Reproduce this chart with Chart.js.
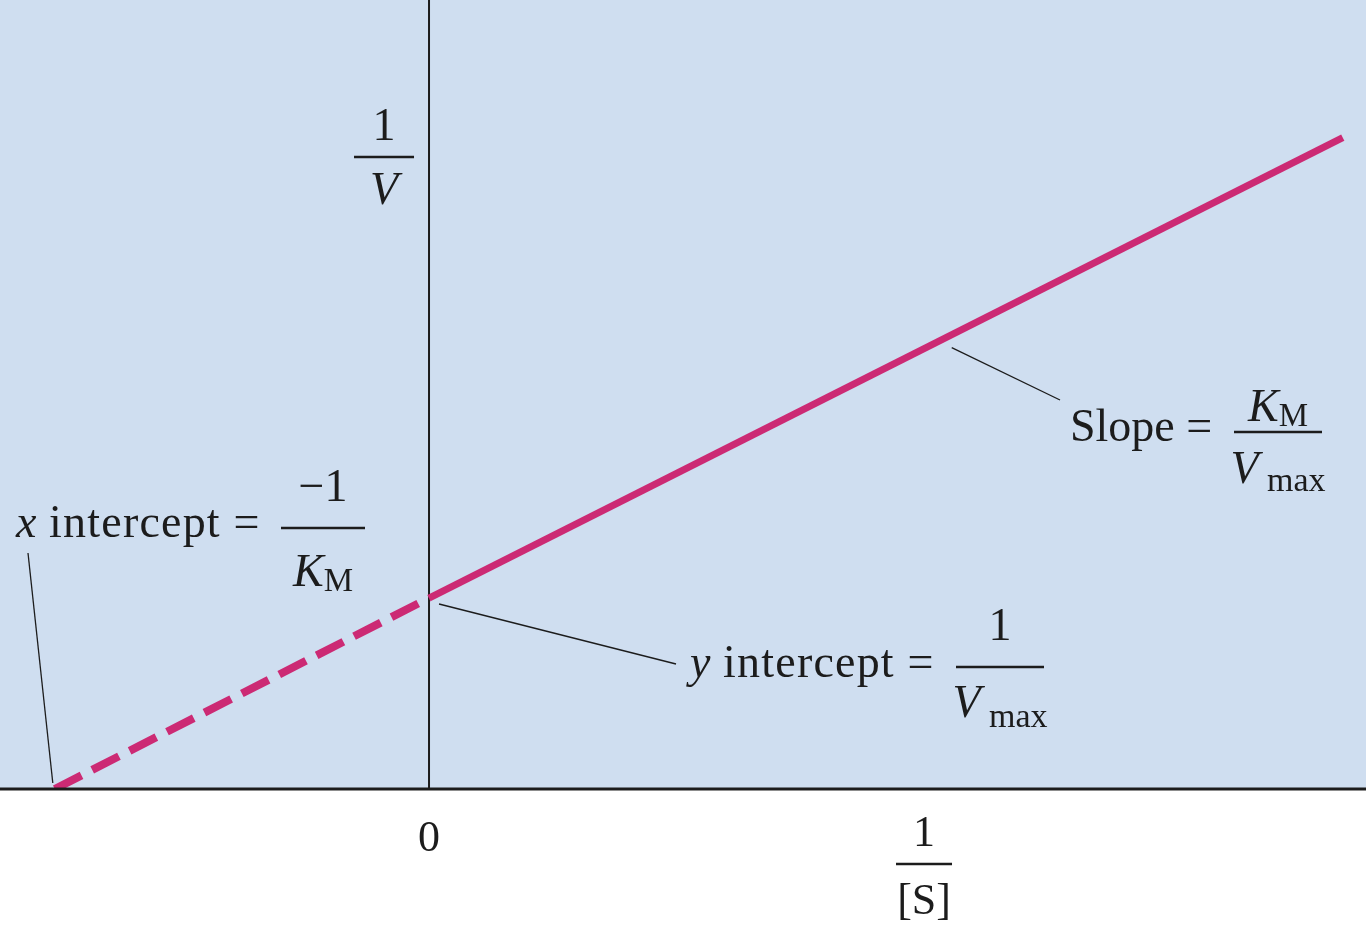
<!DOCTYPE html>
<html>
<head>
<meta charset="utf-8">
<script src="https://cdn.jsdelivr.net/npm/chart.js@4/dist/chart.umd.min.js"></script>
<style>
  html, body { margin: 0; padding: 0; background: #fff; }
  #wrap { width: 1366px; height: 932px; }
</style>
</head>
<body>
<div id="wrap"><canvas id="lbChart" width="1366" height="932"></canvas></div>
<script>
/* ===== DATA (1/[S] on x, 1/V on y) ===== */
const dashedX = [-0.756, 0];      // extrapolated part, down to x intercept = -1/KM
const dashedY = [0, 1];
const solidX = [0, 1.846];        // measured part, from y intercept = 1/Vmax
const solidY = [1, 3.41];
const xTickValues = [0, 1];
const xTickLabels = ["0", "1/[S]"];

const LINE = "#cc2a74";
const BG = "#cfdef0";
const INK = "#1c1c1c";
const SERIF = '"Liberation Serif", "DejaVu Serif", serif';

function font(size, italic) {
  return (italic ? "italic " : "") + size + "px " + SERIF;
}

// draw a run of text pieces: {t, s, i, dy, ls}
function runs(ctx, parts, x, y, align) {
  let w = 0;
  parts.forEach(p => {
    ctx.font = font(p.s, p.i);
    ctx.letterSpacing = (p.ls || 0) + "px";
    w += ctx.measureText(p.t).width;
  });
  let cx = align === "center" ? x - w / 2 : x;
  parts.forEach(p => {
    ctx.font = font(p.s, p.i);
    ctx.letterSpacing = (p.ls || 0) + "px";
    ctx.fillText(p.t, cx, y + (p.dy || 0));
    cx += ctx.measureText(p.t).width;
  });
  ctx.letterSpacing = "0px";
}

function frac(ctx, cx, ly, half, num, numY, den, denY) {
  ctx.beginPath();
  ctx.lineWidth = 2.5;
  ctx.moveTo(cx - half, ly);
  ctx.lineTo(cx + half, ly);
  ctx.stroke();
  runs(ctx, num, cx, numY, "center");
  runs(ctx, den, cx, denY, "center");
}

function leader(ctx, x1, y1, x2, y2) {
  ctx.beginPath();
  ctx.lineWidth = 1.3;
  ctx.moveTo(x1, y1);
  ctx.lineTo(x2, y2);
  ctx.stroke();
}

/* ===== BACKGROUND + AXES ===== */
const backdrop = {
  id: "backdrop",
  beforeDatasetsDraw(chart) {
    const { ctx, chartArea: a, scales: { x, y } } = chart;
    ctx.save();
    ctx.fillStyle = BG;
    ctx.fillRect(a.left, a.top, a.right - a.left, a.bottom - a.top);
    ctx.strokeStyle = INK;
    // y axis at x = 0
    ctx.lineWidth = 2;
    ctx.beginPath();
    ctx.moveTo(x.getPixelForValue(0), a.top);
    ctx.lineTo(x.getPixelForValue(0), y.getPixelForValue(0));
    ctx.stroke();
    ctx.restore();
  },
  afterDatasetsDraw(chart) {
    const { ctx, chartArea: a, scales: { x, y } } = chart;
    ctx.save();
    ctx.strokeStyle = INK;
    ctx.lineWidth = 3;
    ctx.beginPath();
    ctx.moveTo(a.left, y.getPixelForValue(0));
    ctx.lineTo(a.right, y.getPixelForValue(0));
    ctx.stroke();
    ctx.restore();
  }
};

/* ===== LABELS ===== */
const labels = {
  id: "labels",
  afterDraw(chart) {
    const { ctx, scales: { x, y } } = chart;
    const x0 = x.getPixelForValue(0);
    const y0 = y.getPixelForValue(0);
    ctx.save();
    ctx.fillStyle = INK;
    ctx.strokeStyle = INK;
    ctx.textBaseline = "alphabetic";

    // x tick labels
    xTickValues.forEach((v, i) => {
      const px = x.getPixelForValue(v);
      const parts = xTickLabels[i].split("/");
      if (parts.length === 1) {
        runs(ctx, [{ t: parts[0], s: 44 }], px, y0 + 62, "center");
      } else {
        frac(ctx, px, y0 + 75, 28,
          [{ t: parts[0], s: 44 }], y0 + 57,
          [{ t: parts[1], s: 44 }], y0 + 125);
      }
    });

    // y axis label 1/V
    frac(ctx, x0 - 45, 157, 30,
      [{ t: "1", s: 46 }], 140,
      [{ t: "V", s: 46, i: true }], 204);

    // x intercept
    const xi = x.getPixelForValue(dashedX[0]);
    runs(ctx, [{ t: "x", s: 46, i: true }, { t: " intercept =", s: 46, ls: 1.2 }], 16, 537, "left");
    frac(ctx, 323, 528, 42,
      [{ t: "\u22121", s: 46 }], 501,
      [{ t: "K", s: 46, i: true }, { t: "M", s: 33, dy: 5 }], 586);
    leader(ctx, 28, 553, xi - 2, y0 - 6);

    // y intercept
    const yi = y.getPixelForValue(solidY[0]);
    runs(ctx, [{ t: "y", s: 46, i: true }, { t: " intercept =", s: 46, ls: 1.2 }], 690, 677, "left");
    frac(ctx, 1000, 667, 44,
      [{ t: "1", s: 46 }], 640,
      [{ t: "V", s: 46, i: true }, { t: " max", s: 34, dy: 10 }], 717);
    leader(ctx, x0 + 10, yi + 6, 676, 664);

    // slope
    const sx = 1.06, sy = solidY[0] + (solidY[1] - solidY[0]) * (sx - solidX[0]) / (solidX[1] - solidX[0]);
    runs(ctx, [{ t: "Slope =", s: 46 }], 1070, 441, "left");
    frac(ctx, 1278, 432, 44,
      [{ t: "K", s: 46, i: true }, { t: "M", s: 33, dy: 5 }], 421,
      [{ t: "V", s: 46, i: true }, { t: " max", s: 34, dy: 8 }], 483);
    leader(ctx, x.getPixelForValue(sx) - 2, y.getPixelForValue(sy) + 14, 1060, 400);

    ctx.restore();
  }
};

/* ===== LINEWEAVER-BURK PLOT ===== */
new Chart(document.getElementById("lbChart"), {
  type: "scatter",
  data: {
    datasets: [{
      label: "extrapolated",
      data: dashedX.map((v, i) => ({ x: v, y: dashedY[i] })),
      showLine: true,
      borderColor: LINE,
      borderWidth: 8,
      borderDash: [30, 12],
      borderCapStyle: "butt",
      pointRadius: 0
    }, {
      label: "measured",
      data: solidX.map((v, i) => ({ x: v, y: solidY[i] })),
      showLine: true,
      borderColor: LINE,
      borderWidth: 7,
      borderCapStyle: "butt",
      pointRadius: 0
    }]
  },
  options: {
    responsive: false,
    animation: false,
    devicePixelRatio: 1,
    layout: { padding: { left: 0, right: 0, top: 0, bottom: 143 } },
    plugins: { legend: { display: false }, tooltip: { enabled: false } },
    scales: {
      x: { type: "linear", display: false, min: -0.8667, max: 1.8929 },
      y: { type: "linear", display: false, min: 0, max: 4.131 }
    }
  },
  plugins: [backdrop, labels]
});
</script>
</body>
</html>
